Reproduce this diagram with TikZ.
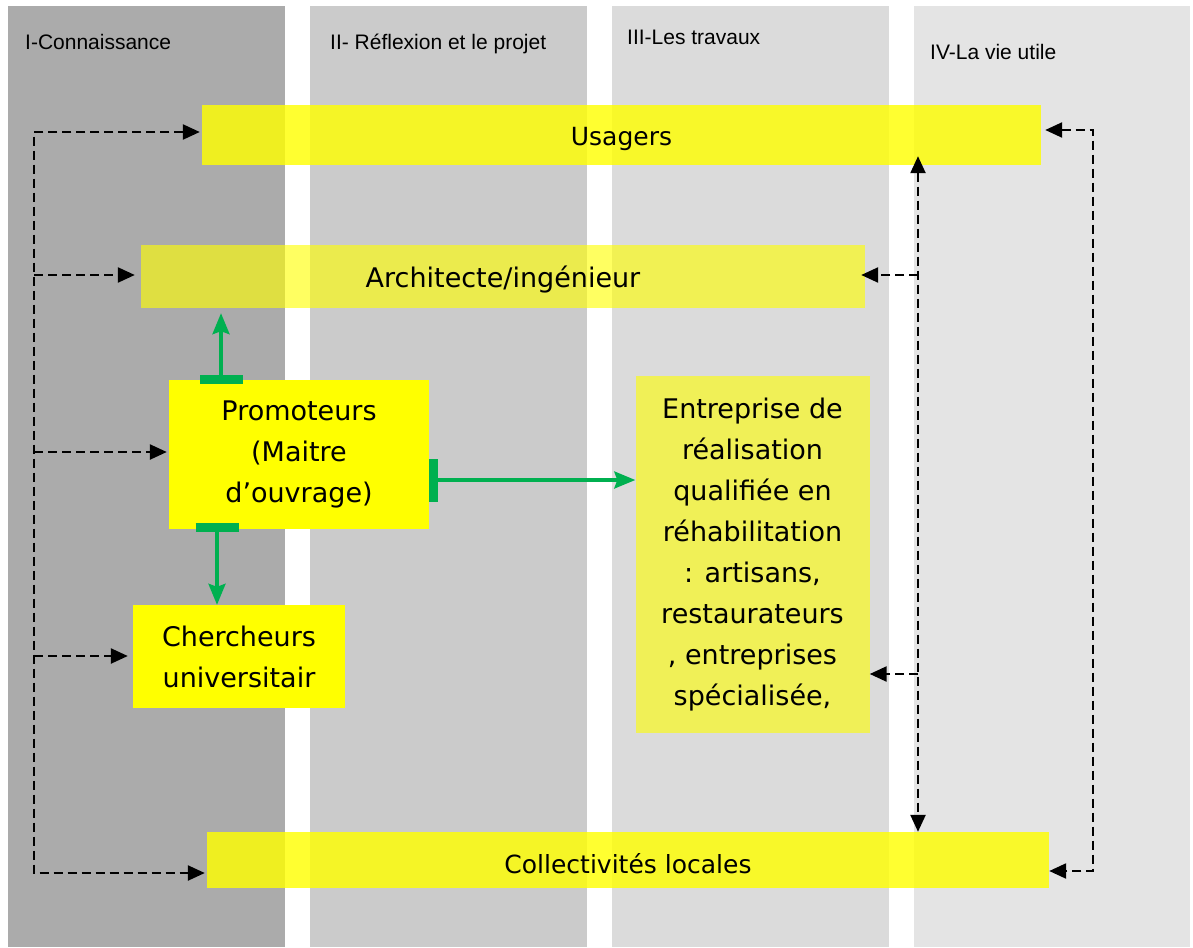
\documentclass[tikz,border=0pt]{standalone}
\usepackage{fontspec}
\setmainfont{DejaVu Sans}
\newfontfamily\hdfont{Liberation Sans}
\usetikzlibrary{arrows.meta}

% phase bands, boxes, connectors
\definecolor{phaseA}{RGB}{171,171,171}
\definecolor{phaseB}{RGB}{203,203,203}
\definecolor{phaseC}{RGB}{219,219,219}
\definecolor{phaseD}{RGB}{228,228,228}
\definecolor{boxyellow}{RGB}{255,255,0}
\definecolor{linkgreen}{RGB}{0,176,80}

% single line label whose glyphs sit on the box centre line
\newcommand{\lowlabel}[2]{\raisebox{#1}[0pt][0pt]{#2}}

\begin{document}
\begin{tikzpicture}[x=1pt,y=-1pt,
  >={Triangle[length=17pt,width=15pt]},
  hdr/.style={anchor=base west, inner sep=0pt, font=\hdfont\fontsize{21}{25}\selectfont},
  actor/.style={rectangle, draw=none, fill=boxyellow, text opacity=1,
                inner sep=0pt, align=center},
  wide/.style={actor, fill opacity=0.81, font=\fontsize{25}{30}\selectfont},
  multi/.style={actor, font=\fontsize{27}{41}\selectfont},
  dsh/.style={black, line width=2.4pt, dash pattern=on 9pt off 5pt},
  grn/.style={draw=linkgreen, line width=3.2pt,
              {Bar[width=43pt,line width=9pt]}-{Stealth[length=21pt,width=17pt,inset=3pt]}}
]
\useasboundingbox (0,0) rectangle (1193,947);
\fill[white] (0,0) rectangle (1193,947);

% the four phases
\fill[phaseA] (8,6) rectangle (285,947);
\fill[phaseB] (310,6) rectangle (587,947);
\fill[phaseC] (612,6) rectangle (889,947);
\fill[phaseD] (914,6) rectangle (1190,947);

\node[hdr] (h1) at (25,50) {I-Connaissance};
\node[hdr] (h2) at (330,50) {II- Réflexion et le projet};
\node[hdr] (h3) at (627,45) {III-Les travaux};
\node[hdr] (h4) at (930,60) {IV-La vie utile};

% actors
\node[wide, minimum width=839pt, minimum height=60pt] (usagers) at (621.5,135)
  {\lowlabel{-10pt}{Usagers}};
\node[actor, fill opacity=0.62, font=\fontsize{27}{32}\selectfont,
      minimum width=724pt, minimum height=63pt] (archi) at (503,276.5)
  {\lowlabel{-11pt}{Architecte/ingénieur}};
\node[multi, minimum width=260pt, minimum height=149pt] (promo) at (299,454.5)
  {Promoteurs\\(Maitre\\d’ouvrage)};
\node[multi, minimum width=212pt, minimum height=103pt] (cherch) at (239,656.5)
  {Chercheurs\\universitair};
\node[multi, fill opacity=0.6, minimum width=234pt, minimum height=357pt] (entre) at (752.5,554.5)
  {Entreprise de\\réalisation\\qualifiée en\\réhabilitation\\: artisans,\\restaurateurs\\, entreprises\\spécialisée,};
\node[wide, minimum width=842pt, minimum height=56pt] (collec) at (628,860)
  {\lowlabel{-13pt}{Collectivités locales}};

% left feedback trunk
\coordinate (L1) at (34,132);
\coordinate (L2) at (34,275);
\coordinate (L3) at (34,452);
\coordinate (L4) at (34,656);
\coordinate (L5) at (34,873);
\draw[dsh, <->, shorten <=2pt, shorten >=2pt] (L1 -| usagers.west) -- (L1) -- (L5) -- (L5 -| collec.west);
\draw[dsh, ->, shorten >=6pt] (L2) -- (L2 -| archi.west);
\draw[dsh, ->, shorten >=2pt] (L3) -- (L3 -| promo.west);
\draw[dsh, ->, shorten >=5pt] (L4) -- (L4 -| cherch.west);

% inner right trunk
\coordinate (R0) at (918,0);
\coordinate (R2) at (918,275);
\coordinate (R3) at (918,674);
\draw[dsh, <->, shorten <=-9pt] (R0 |- usagers.south) -- (R0 |- collec.north);
\draw[dsh, ->, shorten >=-4pt] (R2) -- (R2 -| archi.east);
\draw[dsh, ->] (R3) -- (R3 -| entre.east);

% outer right trunk
\coordinate (Q1) at (1093,130);
\coordinate (Q2) at (1093,871);
\draw[dsh, <->, shorten <=4pt] (Q1 -| usagers.east) -- (Q1) -- (Q2) -- (Q2 -| collec.east);

% links from the client
\coordinate (G1) at (221,0);
\coordinate (G2) at (217,0);
\coordinate (G3) at (0,480);
\draw[grn, shorten <=-4.5pt, shorten >=5pt] (G1 |- promo.north) -- (G1 |- archi.south);
\draw[grn, shorten <=-6pt] (G2 |- promo.south) -- (G2 |- cherch.north);
\draw[grn] (G3 -| promo.east) -- (G3 -| entre.west);
\end{tikzpicture}
\end{document}
